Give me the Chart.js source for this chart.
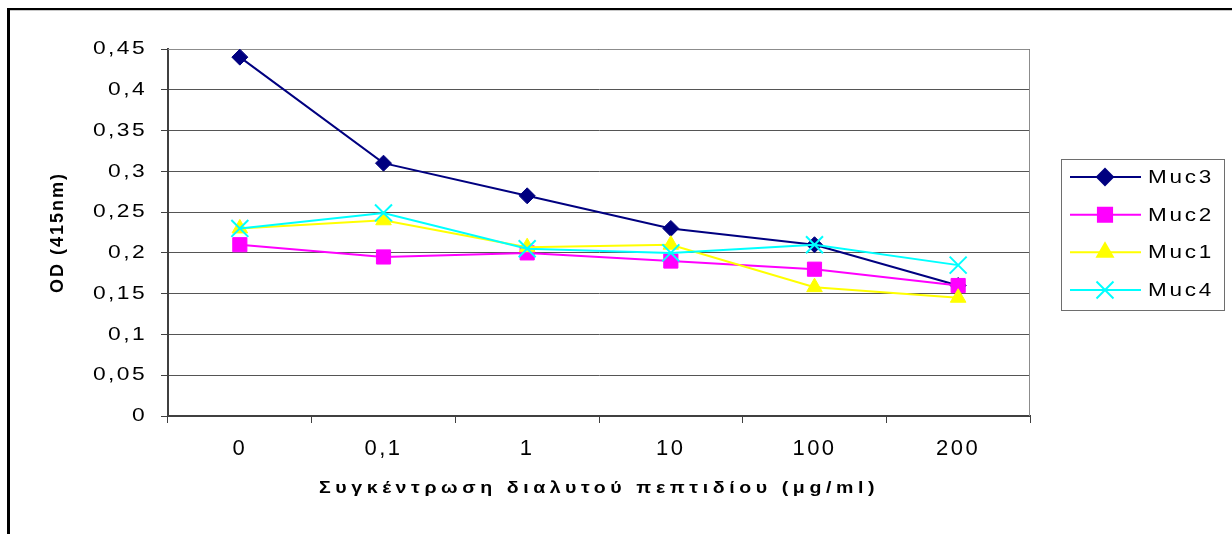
<!DOCTYPE html>
<html>
<head>
<meta charset="utf-8">
<script src="https://cdn.jsdelivr.net/npm/chart.js@4.4.1/dist/chart.umd.min.js"></script>
<style>
  html, body { margin: 0; padding: 0; background: #ffffff; }
  #wrap { width: 1232px; height: 534px; position: relative; }
</style>
</head>
<body>
<div id="wrap"><canvas id="c" width="1232" height="534"></canvas></div>
<script>
// ---- data ----
const categories = ['0', '0,1', '1', '10', '100', '200'];
const seriesNames = ['Muc3', 'Muc2', 'Muc1', 'Muc4'];
const muc3 = [0.44, 0.31, 0.27, 0.23, 0.21, 0.16];
const muc2 = [0.21, 0.195, 0.20, 0.19, 0.18, 0.16];
const muc1 = [0.23, 0.24, 0.207, 0.21, 0.158, 0.145];
const muc4 = [0.23, 0.249, 0.205, 0.20, 0.21, 0.185];
const yMin = 0, yMax = 0.45, yStep = 0.05;
const xTitle = 'Συγκέντρωση διαλυτού πεπτιδίου (μg/ml)';
const yTitle = 'OD (415nm)';

const FONT = "'Liberation Sans', Arial, sans-serif";
const textStyle = {
  x: { ticks: ['2.5px', 1], title: ['4px', 1.15] },
  y: { ticks: ['2px', 1.2], title: ['2px', 1] }
};
const legendStyle = ['2.2px', 1.25];

const canvas = document.getElementById('c');
const c2d = canvas.getContext('2d');
const origFill = c2d.fillText;
let stretch = 1;
c2d.fillText = function (t, x, y, mw) {
  if (stretch === 1) {
    return (mw === undefined) ? origFill.call(this, t, x, y) : origFill.call(this, t, x, y, mw);
  }
  this.save();
  this.translate(x, y);
  this.scale(stretch, 1);
  origFill.call(this, t, 0, 0);
  this.restore();
};

function ds(label, data, color, style, radius, order) {
  return {
    label, data,
    borderColor: color, backgroundColor: color,
    borderWidth: 2,
    pointStyle: style, pointRadius: radius, pointHoverRadius: radius,
    pointBackgroundColor: color, pointBorderColor: color,
    pointBorderWidth: style === 'crossRot' ? 2 : 1,
    tension: 0, fill: false, order
  };
}

const spacingPlugin = {
  id: 'spacingPlugin',
  beforeDraw(chart) {
    for (const s of Object.values(chart.scales)) {
      if (s._spPatched) continue;
      s._spPatched = true;
      const sp = textStyle[s.id] || { ticks: ['0px', 1], title: ['0px', 1] };
      const dl = s.drawLabels.bind(s);
      const dt = s.drawTitle.bind(s);
      s.drawLabels = function (a) {
        const ctx = this.ctx; ctx.save(); ctx.letterSpacing = sp.ticks[0]; stretch = sp.ticks[1];
        dl(a); stretch = 1; ctx.restore();
      };
      s.drawTitle = function (a) {
        const ctx = this.ctx; ctx.save(); ctx.letterSpacing = sp.title[0]; stretch = sp.title[1];
        dt(a); stretch = 1; ctx.restore();
      };
    }
  },
  beforeDatasetsDraw(chart) {
    const { ctx, chartArea: a } = chart;
    ctx.save();
    ctx.strokeStyle = '#8c8c8c';
    ctx.lineWidth = 1;
    ctx.beginPath();
    ctx.moveTo(a.left, a.top + 0.5);
    ctx.lineTo(a.right - 0.5, a.top + 0.5);
    ctx.lineTo(a.right - 0.5, a.bottom);
    ctx.stroke();
    ctx.restore();
  },
  afterDraw(chart) {
    const ctx = chart.ctx;
    ctx.save();
    // outer frame (top and left)
    ctx.fillStyle = '#000';
    ctx.fillRect(7, 8, 1232 - 7, 2);
    ctx.fillRect(7, 8, 3, 534 - 8);
    ctx.fillStyle = '#c8c8c8';
    ctx.fillRect(10, 10, 1232 - 10, 1);
    // legend
    const bx = 1061.5, by = 159.5, bw = 163, bh = 151;
    ctx.strokeStyle = '#6e6e6e';
    ctx.lineWidth = 1;
    ctx.strokeRect(bx, by, bw, bh);
    const rowY = [177, 214.7, 252.3, 290];
    chart.data.datasets.forEach((d, i) => {
      const y = rowY[i];
      ctx.strokeStyle = d.borderColor;
      ctx.lineWidth = 2;
      ctx.beginPath();
      ctx.moveTo(1070, y);
      ctx.lineTo(1141, y);
      ctx.stroke();
      ctx.fillStyle = d.pointBackgroundColor;
      ctx.strokeStyle = d.pointBorderColor;
      Chart.helpers.drawPoint(ctx, {
        pointStyle: d.pointStyle, radius: d.pointRadius, rotation: 0,
        borderWidth: d.pointBorderWidth
      }, 1105, y);
      ctx.fillStyle = '#000';
      ctx.font = '18px ' + FONT;
      ctx.letterSpacing = legendStyle[0];
      ctx.textAlign = 'left';
      ctx.textBaseline = 'middle';
      stretch = legendStyle[1];
      ctx.fillText(d.label, 1148, y + 1);
      stretch = 1;
      ctx.letterSpacing = '0px';
    });
    ctx.restore();
  }
};

new Chart(canvas, {
  type: 'line',
  data: {
    labels: categories,
    datasets: [
      ds(seriesNames[0], muc3, '#000080', 'rectRot', 8, 3),
      ds(seriesNames[1], muc2, '#ff00ff', 'rect', 10, 2),
      ds(seriesNames[2], muc1, '#ffff00', 'triangle', 9, 1),
      ds(seriesNames[3], muc4, '#00ffff', 'crossRot', 12, 0)
    ]
  },
  options: {
    responsive: false,
    animation: false,
    events: [],
    layout: { padding: { left: 0, top: 49, right: 202, bottom: 0 } },
    plugins: { legend: { display: false }, tooltip: { enabled: false } },
    scales: {
      x: {
        type: 'category',
        offset: true,
        afterFit: s => { s.height = 118; },
        grid: { offset: true, drawOnChartArea: false, drawTicks: true, tickLength: 7, color: '#404040', tickColor: '#404040', tickWidth: 1 },
        border: { color: '#404040', width: 2 },
        ticks: { color: '#000', font: { family: FONT, size: 22 }, padding: 13, maxRotation: 0, autoSkip: false },
        title: { display: true, text: xTitle, color: '#000', font: { family: FONT, size: 17, weight: 'bold' }, padding: { top: 0, bottom: 35 } }
      },
      y: {
        min: yMin, max: yMax,
        afterFit: s => { s.width = 168; },
        grid: { color: '#555555', lineWidth: 1, drawTicks: true, tickLength: 7, tickColor: '#404040' },
        border: { color: '#404040', width: 2 },
        ticks: {
          stepSize: yStep, color: '#000', font: { family: FONT, size: 19 }, padding: 14,
          callback: v => String(+v.toFixed(2)).replace('.', ',')
        },
        title: { display: true, text: yTitle, color: '#000', font: { family: FONT, size: 18, weight: 'bold' }, padding: { top: 47, bottom: 0 } }
      }
    }
  },
  plugins: [spacingPlugin]
});
</script>
</body>
</html>
